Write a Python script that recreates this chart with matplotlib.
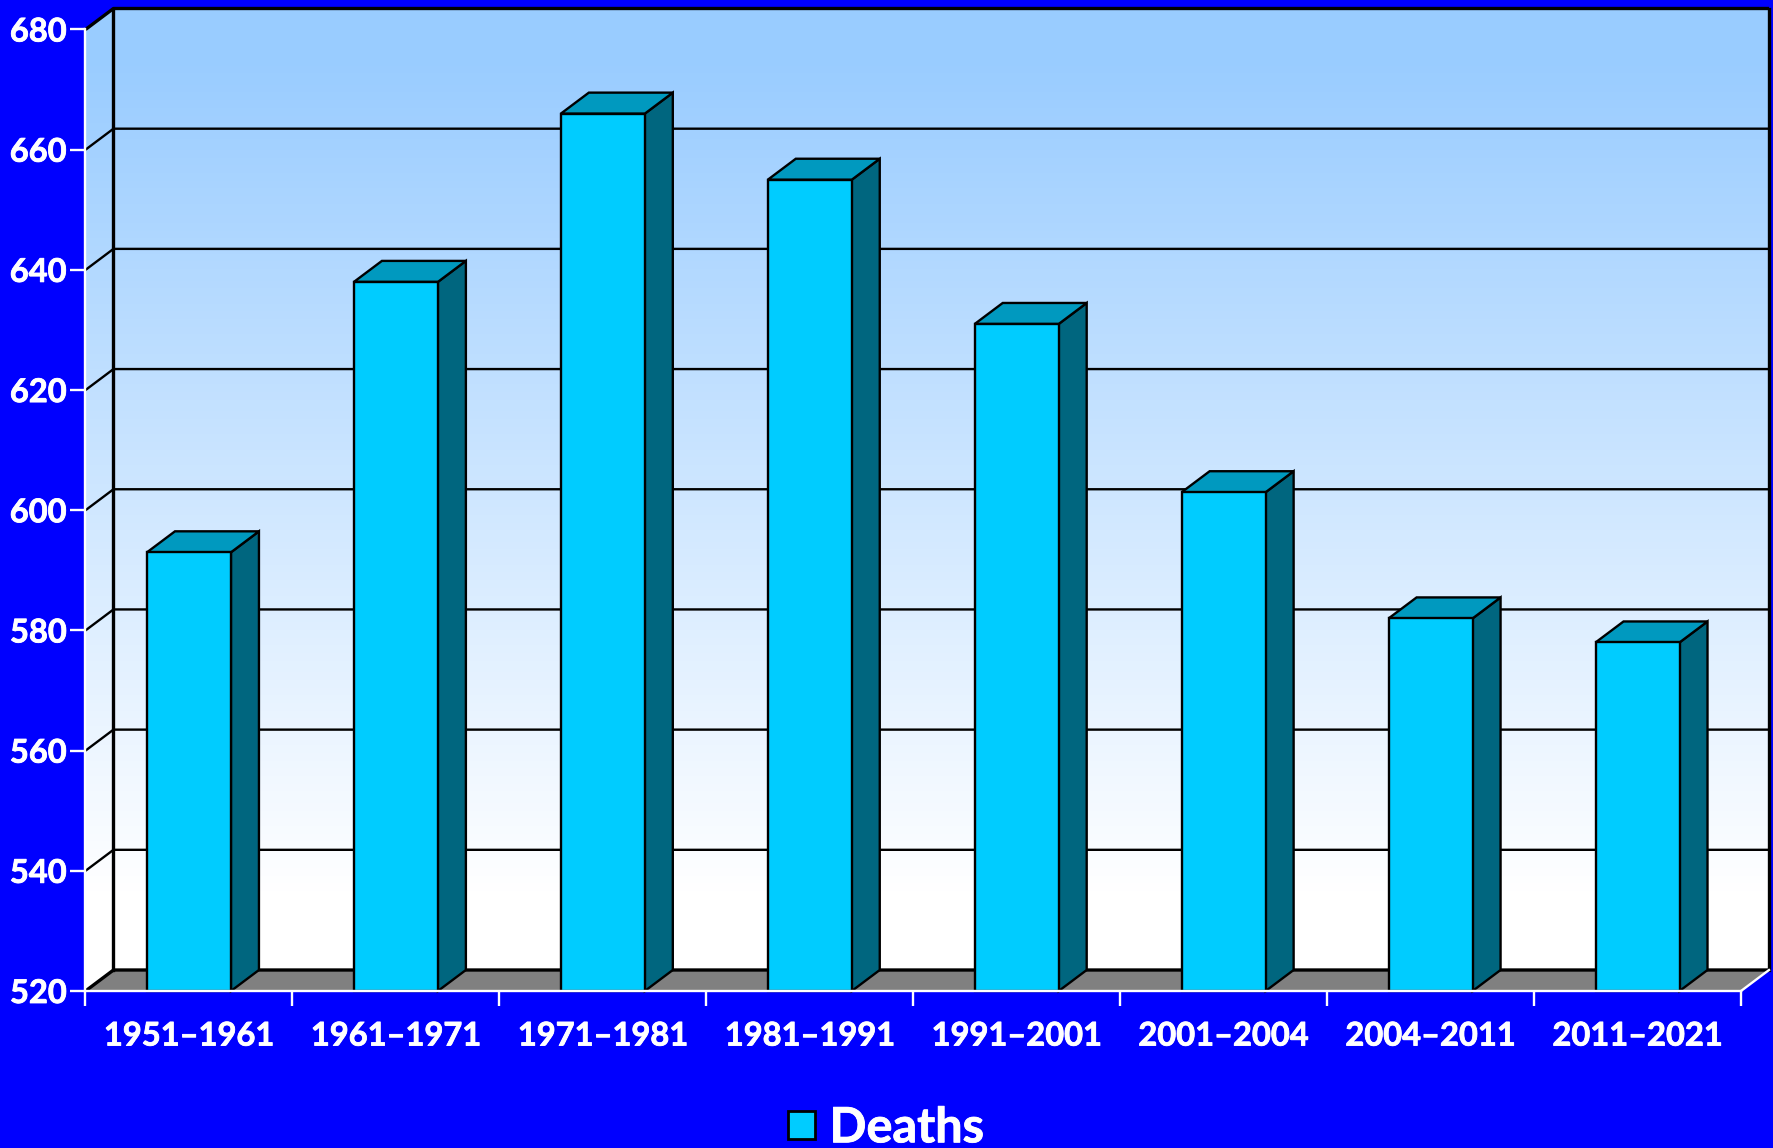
import matplotlib
matplotlib.use("Agg")
import matplotlib.pyplot as plt
import matplotlib.patheffects as pe
import numpy as np
from matplotlib.colors import LinearSegmentedColormap
from matplotlib.patches import Patch, Polygon

# datos
periods = ["1951–1961", "1961–1971", "1971–1981", "1981–1991",
           "1991–2001", "2001–2004", "2004–2011", "2011–2021"]
deaths = [593, 638, 666, 655, 631, 603, 582, 578]
y_ticks = [520, 540, 560, 580, 600, 620, 640, 660, 680]

W, H = 1774, 1148
BLUE = "#0000FF"
FRONT, TOP, SIDE = "#00CCFF", "#0099BF", "#00667F"
y_min, y_max = y_ticks[0], y_ticks[-1]

plt.rcParams["font.family"] = ["Lato", "DejaVu Sans"]
plt.rcParams["font.weight"] = "bold"

fig = plt.figure(figsize=(W / 100, H / 100), dpi=100, facecolor=BLUE)
ax = fig.add_axes([85.5 / W, (H - 991) / H, 1655.5 / W, 961.5 / H], facecolor="none")
ax.set_xlim(0, len(periods))
ax.set_ylim(y_min, y_max)

# profundidad del efecto 3D en unidades de datos
dx = 28 / 207
dy = 21 / 6.01
n = len(periods)

# fondo con degradado (pared trasera y lateral)
walls = Polygon([(0, y_min), (dx, y_min + dy), (n + dx, y_min + dy), (n + dx, y_max + dy),
                 (dx, y_max + dy), (0, y_max)], transform=ax.transData,
                facecolor="none", edgecolor="none")
ax.add_patch(walls)
cmap = LinearSegmentedColormap.from_list(
    "fondo", [(0, "#FFFFFF"), (0.1, "#FFFFFF"), (0.95, "#99CCFF"), (1, "#99CCFF")])
grad = np.linspace(0, 1, 256).reshape(-1, 1)
im = ax.imshow(grad, origin="lower", cmap=cmap, aspect="auto", zorder=0,
               extent=(0, n + dx, y_min, y_max + dy))
im.set_clip_path(walls)
im.set_clip_box(fig.bbox)
ax.set_xlim(0, n)
ax.set_ylim(y_min, y_max)

# suelo
ax.add_patch(Polygon([(0, y_min), (dx, y_min + dy), (n + dx, y_min + dy), (n, y_min)],
                     facecolor="#808080", edgecolor="none", zorder=1, clip_on=False))

# rejilla
for t in y_ticks:
    lw = 2.4 if t in (y_min, y_max) else 1.7
    ax.plot([0, dx, n + dx], [t, t + dy, t + dy], color="black", lw=lw,
            zorder=2, clip_on=False, solid_capstyle="butt")
ax.plot([dx, dx], [y_min + dy, y_max + dy], color="black", lw=2.4, zorder=2, clip_on=False)
ax.plot([n + dx, n + dx], [y_min + dy, y_max + dy], color="black", lw=2.4, zorder=2, clip_on=False)
ax.plot([n, n + dx], [y_min, y_min + dy], color="white", lw=1.7, zorder=2, clip_on=False)

# barras
x = np.arange(n) + 0.5
bar_w = 84 / 207
ax.bar(x, np.array(deaths) - y_min, bar_w, bottom=y_min, color=FRONT,
       edgecolor="black", linewidth=1.7, zorder=4, clip_on=False)
for xi, v in zip(x, deaths):
    l, r = xi - bar_w / 2, xi + bar_w / 2
    ax.add_patch(Polygon([(r, y_min), (r + dx, y_min + dy), (r + dx, v + dy), (r, v)],
                         facecolor=SIDE, edgecolor="black", lw=1.7, zorder=3, clip_on=False))
    ax.add_patch(Polygon([(l, v), (l + dx, v + dy), (r + dx, v + dy), (r, v)],
                         facecolor=TOP, edgecolor="black", lw=1.7, zorder=3, clip_on=False))

# ejes
for s in ("top", "right"):
    ax.spines[s].set_visible(False)
for s in ("left", "bottom"):
    ax.spines[s].set_color("white")
    ax.spines[s].set_linewidth(1.7)
    ax.spines[s].set_zorder(6)

ax.set_yticks(y_ticks)
ax.set_xticks(np.arange(n + 1))
ax.set_xticks(x, periods, minor=True)
ax.set_xticklabels([])
ax.tick_params(axis="y", colors="white", length=10.5, width=1.7, pad=3, labelsize=23.5)
ax.tick_params(axis="x", which="major", colors="white", length=10.5, width=1.7)
ax.tick_params(axis="x", which="minor", colors="white", length=0, pad=22, labelsize=23.5)

# el original tiene un trazo algo mas grueso que Lato Bold
grueso = [pe.withStroke(linewidth=0.6, foreground="white")]
for lab in ax.get_yticklabels() + ax.get_xticklabels(minor=True):
    lab.set_path_effects(grueso)

handle = Patch(facecolor=FRONT, edgecolor="black", linewidth=2, label="Deaths")
leg = fig.legend(handles=[handle], loc="lower center", bbox_to_anchor=(0.4995, -0.002), frameon=False,
                 fontsize=35, labelcolor="white", handlelength=0.56, handleheight=0.5,
                 handletextpad=0.29, borderpad=0, borderaxespad=0)
leg.get_texts()[0].set_path_effects(grueso)

fig.savefig("out.png", dpi=100, facecolor=BLUE)
